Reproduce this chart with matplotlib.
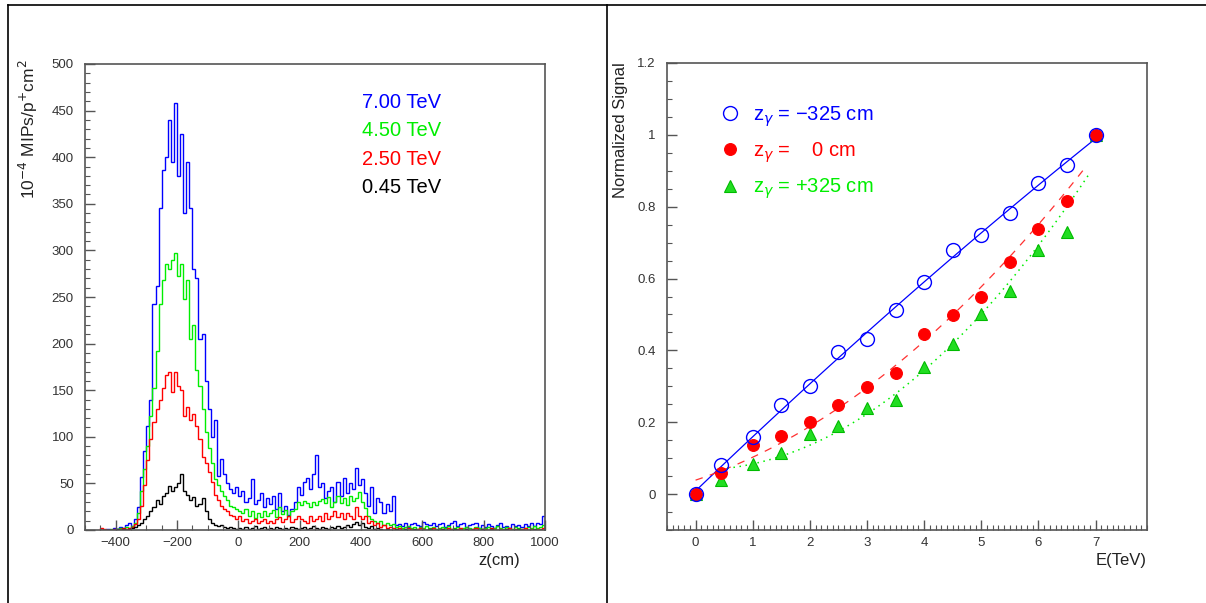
import numpy as np
import matplotlib
matplotlib.use("Agg")
import matplotlib.pyplot as plt
from matplotlib.lines import Line2D
from matplotlib.ticker import MultipleLocator

plt.rcParams['font.family'] = ['Liberation Sans', 'DejaVu Sans']

# ---- left panel: dose profiles along z, 10 cm bins from -450 to 1000 ----
z_edges = np.arange(-450, 1001, 10)

h_700 = [0, 0, 1, 0, 2, 1, 3, 2, 5, 8, 4, 12, 25, 57, 85, 112, 140, 243, 262, 345,
         386, 400, 440, 395, 458, 380, 425, 340, 395, 345, 280, 270, 205, 210, 160, 130, 100, 118, 58, 76,
         60, 50, 44, 40, 46,
         36, 42, 30, 34, 55, 28, 32, 40, 25, 34, 28, 36, 22, 40, 20, 26, 16, 22, 30, 46,
         38, 52, 56, 44, 60, 81, 46, 50, 34, 42, 46, 30, 52, 36, 56, 40, 50, 44, 66, 48,
         55, 40, 26, 46, 18, 34, 30, 18, 28, 20, 36, 5, 6, 4, 7, 3, 6, 8, 5, 4,
         9, 6, 5, 8, 4, 6, 7, 3, 5, 7, 10, 4, 6, 8, 3, 5, 6, 7, 2, 5,
         3, 6, 4, 2, 5, 7, 3, 4, 2, 6, 4, 5, 3, 6, 4, 7, 4, 8, 6, 15]
h_450 = [0, 0, 0, 1, 0, 1, 2, 1, 3, 2, 4, 8, 18, 42, 65, 90, 122, 152, 192, 242,
         268, 285, 280, 290, 297, 272, 285, 248, 268, 205, 220, 172, 155, 130, 105, 88, 72, 55, 48, 42,
         36, 32, 26, 25, 22,
         20, 18, 22, 15, 20, 13, 18, 14, 20, 15, 18, 21, 14, 25, 17, 21, 15, 20, 23, 30,
         27, 31, 29, 25, 30, 27, 31, 33, 29, 35, 25, 30, 36, 29, 34, 27, 36, 31, 34, 41,
         30, 24, 15, 12, 10, 8, 10, 5, 8, 5, 6, 3, 4, 2, 3, 4, 2, 3, 1, 3,
         2, 4, 2, 3, 1, 2, 3, 2, 4, 1, 2, 3, 1, 2, 3, 2, 1, 3, 2, 1,
         2, 3, 1, 2, 4, 2, 1, 3, 2, 1, 3, 2, 1, 2, 3, 2, 4, 2, 3, 5]
h_250 = [2, 1, 0, 0, 1, 0, 1, 2, 1, 2, 3, 6, 12, 26, 48, 75, 98, 116, 130, 140,
         152, 166, 170, 148, 170, 155, 150, 122, 132, 118, 125, 112, 98, 78, 72, 62, 52, 38, 32, 26,
         22, 20, 16, 15, 12,
         15, 10, 12, 8, 10, 12, 7, 10, 12, 8, 10, 7, 12, 14, 9, 12, 15, 9, 12, 15,
         12, 10, 8, 15, 10, 12, 15, 10, 18, 12, 15, 20, 14, 18, 12, 18, 15, 12, 25, 15,
         12, 15, 8, 10, 5, 8, 3, 5, 2, 3, 2, 1, 2, 0, 1, 2, 1, 0, 1, 2,
         1, 0, 1, 2, 0, 1, 1, 0, 2, 1, 0, 1, 2, 0, 1, 0, 1, 2, 0, 1,
         1, 0, 2, 1, 0, 1, 0, 1, 2, 0, 1, 0, 1, 2, 0, 1, 0, 1, 1, 2]
h_045 = [0, 0, 0, 0, 0, 1, 0, 1, 0, 1, 2, 3, 5, 8, 12, 15, 20, 25, 32, 28,
         36, 40, 47, 42, 46, 50, 60, 42, 38, 32, 35, 26, 28, 34, 20, 12, 7, 5, 4, 5,
         3, 2, 3, 2, 1,
         2, 1, 3, 1, 2, 4, 1, 2, 3, 1, 2, 1, 3, 2, 1, 2, 1, 3, 2, 1,
         2, 3, 1, 2, 4, 2, 1, 3, 2, 1, 3, 2, 4, 2, 3, 5, 3, 6, 9, 5,
         7, 3, 2, 4, 1, 2, 1, 0, 1, 0, 0, 1, 0, 0, 1, 0, 0, 1, 0, 0,
         0, 0, 1, 0, 0, 0, 1, 0, 0, 0, 1, 0, 0, 0, 1, 0, 0, 0, 0, 1,
         0, 0, 1, 0, 0, 0, 0, 1, 0, 0, 0, 1, 0, 0, 0, 0, 1, 0, 0, 0]
hist_labels = ['7.00 TeV', '4.50 TeV', '2.50 TeV', '0.45 TeV']
hist_colors = ['#0000ff', '#00ee00', '#ff0000', '#000000']

# ---- right panel: normalized signal vs beam energy ----
energy = [0, 0.45, 1, 1.5, 2, 2.5, 3, 3.5, 4, 4.5, 5, 5.5, 6, 6.5, 7]
sig_m325 = [0, 0.08, 0.158, 0.249, 0.302, 0.395, 0.433, 0.512, 0.59, 0.68, 0.72, 0.783, 0.865, 0.915, 1.0]
sig_0 = [0, 0.06, 0.138, 0.161, 0.2, 0.249, 0.298, 0.338, 0.447, 0.498, 0.548, 0.646, 0.737, 0.816, 1.0]
sig_p325 = [0, 0.039, 0.083, 0.115, 0.166, 0.189, 0.24, 0.263, 0.355, 0.418, 0.5, 0.564, 0.68, 0.73, 1.0]

fig = plt.figure(figsize=(12.06, 6.03), dpi=100)

frame_col = '#555555'
tick_col = '#333333'

def style(ax):
    for s in ax.spines.values():
        s.set_color(frame_col)
        s.set_linewidth(1.2)
    ax.tick_params(which='both', direction='in', colors=frame_col, labelcolor=tick_col,
                   labelsize=9.5, top=False, right=False)
    ax.tick_params(which='major', length=7, width=1)
    ax.tick_params(which='minor', length=3.5, width=0.8)
    ax.tick_params(axis='y', pad=8)
    ax.tick_params(axis='x', pad=5)

# left
ax1 = fig.add_axes([85 / 1206, 73 / 603, 460 / 1206, 466 / 603])
for vals, col in zip([h_700, h_450, h_250, h_045], hist_colors):
    ax1.stairs(vals, z_edges, color=col, lw=1.0)
ax1.set_xlim(-500, 1000)
ax1.set_ylim(0, 500)
ax1.xaxis.set_major_locator(MultipleLocator(200))
ax1.xaxis.set_minor_locator(MultipleLocator(50))
ax1.yaxis.set_major_locator(MultipleLocator(50))
ax1.yaxis.set_minor_locator(MultipleLocator(10))
style(ax1)
ax1.set_ylabel(r'10$^{-4}$ MIPs/p$^{+}$cm$^{2}$', loc='top', fontsize=12.5, color='#222222')
ax1.yaxis.set_label_coords(-0.098, 1.01)
ax1.set_xlabel('z(cm)', loc='right', fontsize=12, color='#222222')
ax1.xaxis.set_label_coords((520 - 85) / 460, -0.05)
for i, (lab, col) in enumerate(zip(hist_labels, hist_colors)):
    ax1.text(0.602, 0.918 - i * 0.061, lab, color=col, fontsize=14.5,
             transform=ax1.transAxes, va='center', ha='left')

# right
ax2 = fig.add_axes([667 / 1206, 73 / 603, 480 / 1206, 467 / 603])
fb = np.poly1d(np.polyfit(energy, sig_m325, 2))
fr = np.poly1d(np.polyfit(energy, sig_0, 2))
fg = np.poly1d(np.polyfit(energy[1:], sig_p325[1:], 2))
xb = np.linspace(0, 7, 100)
xr = np.linspace(0, 6.85, 100)
xg = np.linspace(0.45, 6.87, 100)
ax2.plot(xb, fb(xb), color='#0000ff', lw=0.9)
ax2.plot(xr, fr(xr), color='#ff3030', lw=0.9, ls=(0, (6, 6)))
ax2.plot(xg, fg(xg), color='#00ee00', lw=1.1, ls=(0, (1, 3)))
hg, = ax2.plot(energy, sig_p325, ls='none', marker='^', ms=9, mfc='#22dd22', mec='#00bb00', mew=0.8)
hr, = ax2.plot(energy, sig_0, ls='none', marker='o', ms=8.5, mfc='#ff0000', mec='#ff0000', mew=0.8)
hb, = ax2.plot(energy, sig_m325, ls='none', marker='o', ms=10, mfc='none', mec='#0000ff', mew=1.0)
ax2.set_xlim(-0.5, 7.9)
ax2.set_ylim(-0.1, 1.2)
ax2.xaxis.set_major_locator(MultipleLocator(1))
ax2.xaxis.set_minor_locator(MultipleLocator(0.1))
ax2.yaxis.set_major_locator(MultipleLocator(0.2))
ax2.yaxis.set_minor_locator(MultipleLocator(0.05))
ax2.yaxis.set_major_formatter(plt.FuncFormatter(lambda v, p: ('%g' % round(v, 2)).replace('-', '\u2212')))
ax2.xaxis.set_major_formatter(plt.FuncFormatter(lambda v, p: '%g' % v))
style(ax2)
ax2.set_ylabel('Normalized Signal', loc='top', fontsize=12, color='#222222')
ax2.yaxis.set_label_coords((628 - 667) / 480, 1.002)
ax2.set_xlabel('E(TeV)', loc='right', fontsize=12, color='#222222')
ax2.xaxis.set_label_coords(1.0, -0.05)
leg_labels = ['z$_{\\gamma}$ = \u2212325 cm', 'z$_{\\gamma}$ =    0 cm', 'z$_{\\gamma}$ = +325 cm']
ax2.legend([hb, hr, hg], leg_labels, loc='upper left', bbox_to_anchor=(0.11, 0.912),
           frameon=False, fontsize=14.5, handlelength=1.0, handletextpad=0.65,
           labelspacing=0.58, borderpad=0, borderaxespad=0,
           labelcolor=['#0000ff', '#ff0000', '#00ee00'])

# pad borders
for xs, ys in [((8, 1206), (5, 5)), ((8, 8), (5, 603)), ((607, 607), (5, 603))]:
    fig.add_artist(Line2D([x / 1206 for x in xs], [1 - y / 603 for y in ys],
                          color='black', lw=1.2))

fig.savefig('out.png', dpi=100)
